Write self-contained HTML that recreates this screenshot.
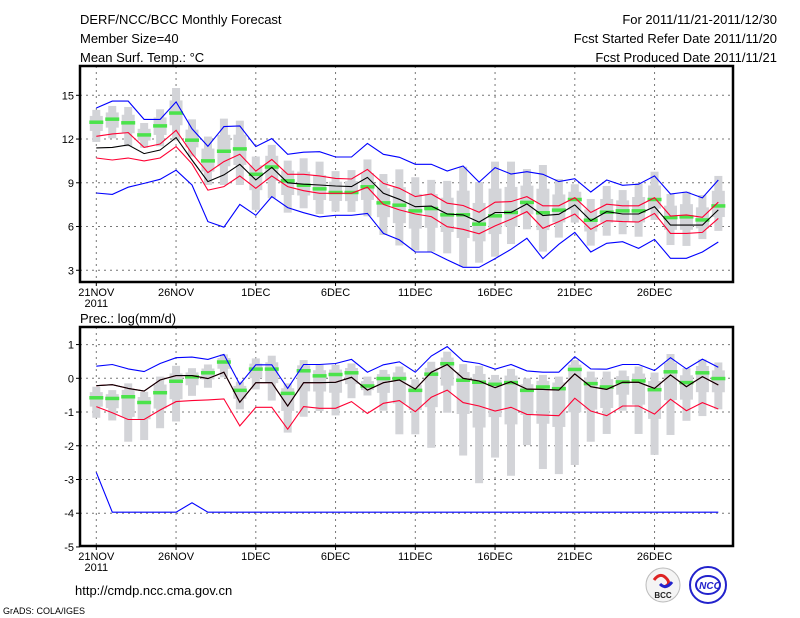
<!DOCTYPE html>
<html><head><meta charset="utf-8"><style>
html,body{margin:0;padding:0;background:#fff;}
svg{display:block;font-family:"Liberation Sans",sans-serif;}
</style></head><body>
<svg id="chart" width="800" height="618" viewBox="0 0 800 618" xmlns="http://www.w3.org/2000/svg">
<g font-size="13" fill="#000">
<text x="80" y="24">DERF/NCC/BCC Monthly Forecast</text>
<text x="80" y="43">Member Size=40</text>
<text x="80" y="62">Mean Surf. Temp.: °C</text>
</g>
<g font-size="13" fill="#000" text-anchor="end">
<text x="777" y="24">For 2011/11/21-2011/12/30</text>
<text x="777" y="43">Fcst Started Refer Date 2011/11/20</text>
<text x="777" y="62">Fcst Produced Date 2011/11/21</text>
</g>
<text x="80" y="323" font-size="13">Prec.: log(mm/d)</text>
<text x="75" y="595" font-size="13">http://cmdp.ncc.cma.gov.cn</text>
<text x="3" y="614" font-size="9">GrADS: COLA/IGES</text>
<g>
<circle cx="663" cy="585" r="17" fill="#f4f4f4" stroke="#bbb"/>
<path d="M654 580 q6 -8 12 -2 q6 6 -2 9" fill="none" stroke="#d22" stroke-width="3"/>
<path d="M672 582 q-6 8 -12 2" fill="none" stroke="#22c" stroke-width="3"/>
<text x="663" y="598" font-size="8" text-anchor="middle" font-weight="bold" fill="#222">BCC</text>
</g>
<g>
<circle cx="708" cy="585" r="18" fill="#fff" stroke="#22c" stroke-width="2"/>
<ellipse cx="708" cy="585" rx="12" ry="9" fill="none" stroke="#22c" stroke-width="2"/>
<text x="710" y="589" font-size="10" text-anchor="middle" font-weight="bold" font-style="italic" fill="#22c">NCC</text>
</g>
<g id="plots"></g>
</svg>
<script>
// ---- data ----
const days = ['21NOV','22NOV','23NOV','24NOV','25NOV','26NOV','27NOV','28NOV','29NOV','30NOV','1DEC','2DEC','3DEC','4DEC','5DEC','6DEC','7DEC','8DEC','9DEC','10DEC','11DEC','12DEC','13DEC','14DEC','15DEC','16DEC','17DEC','18DEC','19DEC','20DEC','21DEC','22DEC','23DEC','24DEC','25DEC','26DEC','27DEC','28DEC','29DEC','30DEC'];
const xTickLabels = ['21NOV','26NOV','1DEC','6DEC','11DEC','16DEC','21DEC','26DEC'];
const tTicks = [3,6,9,12,15];
const pTicks = [1,0,-1,-2,-3,-4,-5];

const tMed = [13.17,13.38,13.13,12.3,12.92,13.8,11.94,10.52,11.18,11.34,9.6,10.1,9.15,8.85,8.6,8.35,8.35,8.74,7.64,7.48,7.09,7.25,6.82,6.82,6.18,6.75,6.98,7.67,6.96,7.14,7.87,6.45,7.0,7.09,7.09,7.87,6.63,6.68,6.47,7.43];
const tMax = [14.0,14.27,14.2,13.1,14.04,15.5,13.35,12.17,13.4,13.26,10.8,11.6,10.52,10.68,10.45,9.8,9.87,10.6,9.6,9.92,9.38,9.2,9.13,10.1,9.05,10.45,10.45,9.94,10.22,9.26,8.9,7.89,8.78,8.5,8.96,9.76,8.23,8.39,8.16,9.47];
const tMin = [11.8,12.05,11.5,11.4,11.5,11.9,10.8,8.85,8.85,8.85,7.14,7.94,6.95,7.25,6.86,7.02,7.0,6.7,5.42,4.7,4.35,4.28,4.16,3.25,3.52,3.93,4.8,5.81,4.28,5.24,6.27,4.69,5.37,5.47,5.3,6.45,4.73,4.67,5.14,5.7];
const tBlueHi = [14.13,14.6,14.6,13.35,13.35,14.55,12.7,11.5,12.85,12.9,11.48,12.03,10.95,11.1,11.13,10.77,10.77,11.7,10.95,10.75,10.27,10.27,9.81,10.15,9.05,10.04,9.6,9.76,9.58,9.08,9.28,8.37,9.19,8.83,8.9,9.47,8.23,8.37,7.96,9.19];
const tRedHi = [12.19,12.35,12.44,11.43,11.66,12.6,11.0,9.7,10.45,10.95,9.8,10.6,9.58,9.58,9.47,9.3,9.26,9.92,8.96,8.62,8.05,8.23,7.6,7.44,6.98,7.67,7.71,8.05,7.42,7.42,7.98,6.96,7.53,7.42,7.42,7.98,6.72,6.8,6.63,7.67];
const tMean = [11.39,11.43,11.6,11.0,11.25,12.1,10.56,9.08,9.54,10.27,9.2,10.06,9.0,8.9,8.85,8.78,8.74,9.37,8.28,7.87,7.36,7.4,6.86,6.8,6.3,6.96,6.96,7.55,6.75,6.84,7.48,6.4,7.02,6.86,6.86,7.36,6.1,6.1,6.1,7.14];
const tRedLo = [10.7,10.56,10.7,10.5,10.7,11.48,10.3,8.5,8.74,9.47,8.62,9.47,8.74,8.46,8.28,8.28,8.28,8.7,7.52,7.14,6.86,6.68,5.99,5.81,5.5,6.04,6.5,7.02,5.88,6.34,6.86,5.81,6.4,6.34,6.31,6.9,5.53,5.53,5.6,6.56];
const tBlueLo = [8.3,8.2,8.7,8.96,9.24,9.86,8.85,6.34,5.95,7.52,6.77,8.05,7.3,6.95,6.66,6.77,6.77,6.9,5.53,5.08,4.25,4.25,3.71,3.2,3.2,3.8,4.44,5.19,3.8,4.78,5.6,4.25,4.85,4.96,4.5,5.12,3.82,3.82,4.25,4.94];

const pMed = [-0.57,-0.59,-0.54,-0.71,-0.42,-0.08,0.05,0.17,0.49,-0.35,0.28,0.28,-0.44,0.23,0.08,0.12,0.17,-0.22,0.0,0.0,-0.35,0.13,0.44,-0.05,-0.11,-0.17,-0.12,-0.35,-0.25,-0.3,0.27,-0.15,-0.25,-0.1,-0.07,-0.33,0.2,-0.12,0.17,0.0];
const pMax = [-0.25,-0.35,-0.15,-0.4,0.05,0.37,0.3,0.41,0.71,-0.1,0.59,0.67,-0.15,0.54,0.4,0.4,0.44,0.05,0.25,0.35,-0.03,0.49,0.79,0.42,0.37,0.1,0.28,0.0,0.1,0.05,0.54,0.2,0.2,0.23,0.35,0.17,0.72,0.3,0.56,0.47];
const pMin = [-1.17,-1.25,-1.88,-1.83,-1.48,-1.28,-0.52,-0.28,0.03,-0.92,-0.33,-0.66,-1.61,-1.14,-0.97,-1.1,-0.59,-0.51,-0.96,-1.66,-1.66,-2.06,-1.02,-2.29,-3.11,-2.35,-2.89,-1.98,-2.69,-2.84,-2.57,-1.88,-1.65,-0.96,-1.65,-2.27,-1.68,-1.26,-1.12,-0.92];
const pBlueHi = [0.36,0.41,0.28,0.2,0.44,0.61,0.63,0.56,0.71,-0.18,0.4,0.4,-0.3,0.41,0.41,0.44,0.56,0.18,0.4,0.49,0.18,0.66,0.94,0.51,0.44,0.27,0.41,0.22,0.18,0.18,0.64,0.28,0.27,0.41,0.41,0.23,0.61,0.28,0.57,0.33];
const pMean = [-0.22,-0.19,-0.3,-0.38,-0.05,0.08,0.08,-0.01,0.18,-0.71,-0.13,-0.13,-0.82,-0.13,-0.13,-0.12,0.03,-0.35,-0.13,-0.05,-0.32,0.18,0.41,0.0,-0.08,-0.28,-0.1,-0.32,-0.33,-0.35,0.13,-0.25,-0.33,-0.12,-0.12,-0.3,0.1,-0.25,0.05,-0.2];
const pRedLo = [-0.84,-1.02,-1.22,-1.22,-0.94,-0.69,-0.66,-0.64,-0.61,-1.41,-0.86,-0.86,-1.51,-0.84,-0.89,-0.89,-0.69,-1.04,-0.74,-0.66,-0.99,-0.56,-0.35,-0.72,-0.82,-0.97,-0.86,-1.07,-1.09,-1.11,-0.59,-0.97,-1.11,-0.82,-0.82,-1.06,-0.62,-0.96,-0.72,-0.91];
const pBlueLo = [-2.79,-3.97,-3.97,-3.97,-3.97,-3.97,-3.69,-3.97,-3.97,-3.97,-3.97,-3.97,-3.97,-3.97,-3.97,-3.97,-3.97,-3.97,-3.97,-3.97,-3.97,-3.97,-3.97,-3.97,-3.97,-3.97,-3.97,-3.97,-3.97,-3.97,-3.97,-3.97,-3.97,-3.97,-3.97,-3.97,-3.97,-3.97,-3.97,-3.97];

// ---- axes ----
const NS='http://www.w3.org/2000/svg';
const plots=document.getElementById('plots');
function xOf(i){return 96.3+15.95*i;}
function mk(tag,attrs,parent){const e=document.createElementNS(NS,tag);for(const k in attrs)e.setAttribute(k,attrs[k]);(parent||plots).appendChild(e);return e;}

function panel(name,top,bottom,yOf,ticks,gridTicks,med,mx,mn,lines){
  const g=mk('g',{});
  
  
  // grid
  gridTicks.forEach(v=>{const l=mk('line',{x1:80,x2:733,y1:yOf(v),y2:yOf(v),stroke:'#777','stroke-dasharray':'2,4','stroke-width':1},g);
    
    });
  xTickLabels.forEach((lab,k)=>{const x=xOf(k*5);
    const l=mk('line',{x1:x,x2:x,y1:top,y2:bottom,stroke:'#777','stroke-dasharray':'2,4','stroke-width':1},g);
    
    
    const t=mk('text',{x:x,y:bottom+14,'font-size':11,'text-anchor':'middle'},g);t.textContent=lab;
    
    
    const tk=mk('line',{x1:x,x2:x,y1:bottom,y2:bottom+4,stroke:'#000'},g);
    
    
  });
  const yr=mk('text',{x:xOf(0),y:bottom+25,'font-size':11,'text-anchor':'middle'},g);yr.textContent='2011';
  
  
  ticks.forEach(v=>{const t=mk('text',{x:74,y:yOf(v)+4,'font-size':11,'text-anchor':'end'},g);t.textContent=v;
    
    
    const tk=mk('line',{x1:76,x2:80,y1:yOf(v),y2:yOf(v),stroke:'#000'},g);
    
    });
  // boxes
  days.forEach((d,i)=>{const x=xOf(i);
    const b=mk('rect',{x:x-4,y:yOf(mx[i]),width:8,height:Math.max(1,yOf(mn[i])-yOf(mx[i])),fill:'#d3d4d8'},g);
    
    
    const hi=med[i]+(mx[i]-med[i])*0.5, lo=med[i]-(med[i]-mn[i])*0.45;
    const q=mk('rect',{x:x-6.5,y:yOf(hi),width:13,height:Math.max(1,yOf(lo)-yOf(hi)),fill:'#d3d4d8'},g);
    
    
    const m=mk('rect',{x:x-7,y:yOf(med[i])-1.5,width:14,height:3.5,fill:'#4be34b'},g);
    
    
  });
  lines.forEach(([arr,col,nm])=>{
    const p=mk('polyline',{points:arr.map((v,i)=>xOf(i).toFixed(1)+','+yOf(v).toFixed(1)).join(' '),fill:'none',stroke:col,'stroke-width':1.1},g);
    
    
  });
  const f=mk('rect',{x:80,y:top,width:653,height:bottom-top,fill:'none',stroke:'#000','stroke-width':2.5},g);
  
  
}
function yT(v){return 95.3+(15-v)*14.58;}
function yP(v){return 378.3-v*33.73;}
panel('temperature-panel',66,282,yT,tTicks,tTicks,tMed,tMax,tMin,[
  [tBlueHi,'#0000ff','temp-max-line'],[tRedHi,'#ff0033','temp-upper-line'],[tMean,'#000','temp-mean-line'],[tRedLo,'#ff0033','temp-lower-line'],[tBlueLo,'#0000ff','temp-min-line']]);
panel('precip-panel',327,546,yP,pTicks,[1,0,-1,-2,-3,-4],pMed,pMax,pMin,[
  [pBlueHi,'#0000ff','prec-max-line'],[pMean,'#ff0033','prec-upper-line'],[pMean,'#000','prec-mean-line'],[pRedLo,'#ff0033','prec-lower-line'],[pBlueLo,'#0000ff','prec-min-line']]);
</script>
</body></html>
